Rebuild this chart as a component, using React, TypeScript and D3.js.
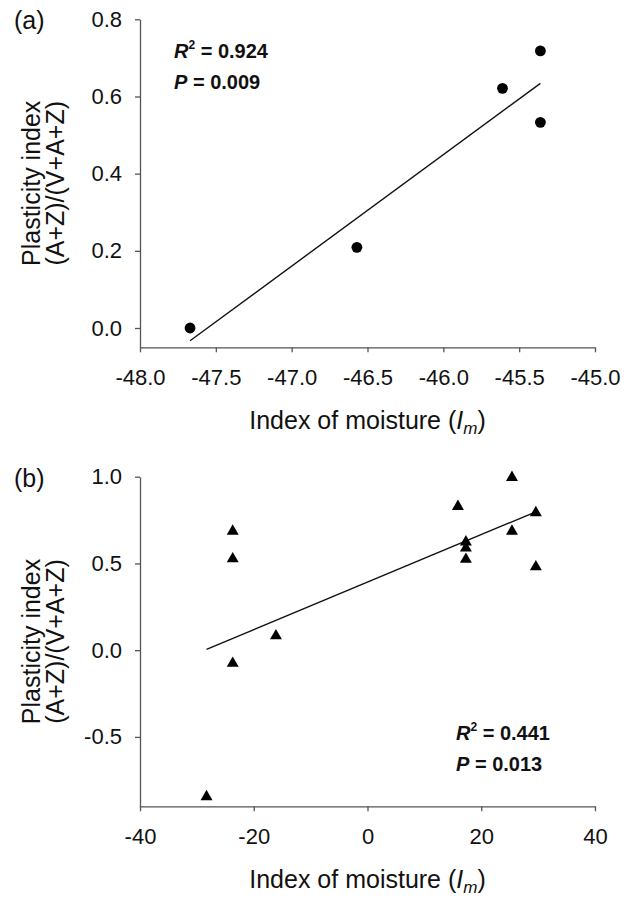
import React, { useRef, useEffect } from 'react';
import * as d3 from 'd3';

// panel (a): circles
const moistureA = [-47.67, -46.57, -45.61, -45.36, -45.36];
const plasticityA = [0.0, 0.209, 0.621, 0.718, 0.533];
const xTicksA = [-48, -47.5, -47, -46.5, -46, -45.5, -45];
const yTicksA = [0, 0.2, 0.4, 0.6, 0.8];
const statsA = ['0.924', '0.009'];

// panel (b): triangles
const moistureB = [25.4, 15.9, 29.6, 25.4, 17.3, 17.3, 17.3, 29.6, -23.7, -23.7, -16.1, -23.7, -28.3];
const plasticityB = [1.0, 0.833, 0.797, 0.69, 0.628, 0.593, 0.528, 0.485, 0.69, 0.531, 0.087, -0.071, -0.84];
const xTicksB = [-40, -20, 0, 20, 40];
const yTicksB = [-0.5, 0, 0.5, 1.0];
const statsB = ['0.441', '0.013'];

const FONT = '"Liberation Sans", Arial, sans-serif';

const App = () => {
  const svgRef = useRef(null);

  useEffect(() => {
    const svg = d3.select(svgRef.current);
    svg.selectAll('*').remove();

    const panels = [
      {
        label: '(a)', xs: moistureA, ys: plasticityA, xTicks: xTicksA, yTicks: yTicksA,
        xDomain: [-48, -45], yDomain: [-0.05, 0.8], top: 19.3, bottom: 347.3,
        xFmt: '.1f', marker: 'circle', stats: statsA, statX: 174, statY: 58
      },
      {
        label: '(b)', xs: moistureB, ys: plasticityB, xTicks: xTicksB, yTicks: yTicksB,
        xDomain: [-40, 40], yDomain: [-0.9, 1.0], top: 476.7, bottom: 806.3,
        xFmt: 'd', marker: 'triangle', stats: statsB, statX: 456, statY: 740
      }
    ];

    const left = 140;
    const right = 595;
    const noMinus = (f) => (d) => d3.format(f)(d).replace('\u2212', '-');

    panels.forEach((p) => {
      const x = d3.scaleLinear().domain(p.xDomain).range([left, right]);
      const y = d3.scaleLinear().domain(p.yDomain).range([p.bottom, p.top]);
      const g = svg.append('g');

      const xAxis = g.append('g')
        .attr('transform', `translate(0,${p.bottom})`)
        .call(d3.axisBottom(x).tickValues(p.xTicks).tickFormat(noMinus(p.xFmt)).tickSize(5).tickSizeOuter(0).tickPadding(17));
      const yAxis = g.append('g')
        .attr('transform', `translate(${left},0)`)
        .call(d3.axisLeft(y).tickValues(p.yTicks).tickFormat(noMinus('.1f')).tickSize(5).tickSizeOuter(0).tickPadding(13));

      [xAxis, yAxis].forEach((a) => {
        a.attr('font-family', FONT).attr('font-size', 22);
        a.selectAll('path, line').attr('stroke', '#555').attr('stroke-width', 1.3);
        a.selectAll('text').attr('fill', '#111');
      });

      // regression line over the data range
      const mx = d3.mean(p.xs);
      const my = d3.mean(p.ys);
      const sxy = d3.sum(p.xs, (v, i) => (v - mx) * (p.ys[i] - my));
      const sxx = d3.sum(p.xs, (v) => (v - mx) ** 2);
      const slope = sxy / sxx;
      const [x0, x1] = d3.extent(p.xs);
      const fit = [x0, x1].map((v) => [v, my + slope * (v - mx)]);
      g.append('path')
        .attr('d', d3.line().x((d) => x(d[0])).y((d) => y(d[1]))(fit))
        .attr('fill', 'none')
        .attr('stroke', '#111')
        .attr('stroke-width', 1.4);

      const pts = p.xs.map((v, i) => [v, p.ys[i]]);
      const sym = p.marker === 'circle'
        ? d3.symbol().type(d3.symbolCircle).size(Math.PI * 5.4 * 5.4)
        : d3.symbol().type(d3.symbolTriangle).size(62);
      g.selectAll('.pt')
        .data(pts)
        .enter()
        .append('path')
        .attr('d', sym)
        .attr('transform', (d) => `translate(${x(d[0])},${y(d[1]) + (p.marker === 'triangle' ? 0.8 : 0)})`)
        .attr('fill', '#000');

      // panel label
      g.append('text')
        .attr('x', 14).attr('y', p.top + 10)
        .attr('font-family', FONT).attr('font-size', 25).attr('fill', '#111')
        .text(p.label);

      // y title
      const midY = (p.top + p.bottom) / 2;
      const yt = g.append('text')
        .attr('transform', `translate(0,${midY}) rotate(-90)`)
        .attr('text-anchor', 'middle')
        .attr('font-family', FONT).attr('font-size', 25).attr('fill', '#111');
      yt.append('tspan').attr('x', 0).attr('y', 40).text('Plasticity index');
      yt.append('tspan').attr('x', 0).attr('y', 64).text('(A+Z)/(V+A+Z)');

      // x title
      const xt = g.append('text')
        .attr('x', (left + right) / 2).attr('y', p.bottom + 82)
        .attr('text-anchor', 'middle')
        .attr('font-family', FONT).attr('font-size', 25).attr('fill', '#111');
      xt.append('tspan').text('Index of moisture (');
      xt.append('tspan').attr('font-style', 'italic').text('I');
      xt.append('tspan').attr('font-style', 'italic').attr('font-size', 17).attr('dy', 5).text('m');
      xt.append('tspan').attr('dy', -5).text(')');

      // statistics
      const s1 = g.append('text')
        .attr('x', p.statX).attr('y', p.statY)
        .attr('font-family', FONT).attr('font-size', 20).attr('font-weight', 'bold').attr('fill', '#111');
      s1.append('tspan').attr('font-style', 'italic').text('R');
      s1.append('tspan').attr('font-size', 12).attr('dy', -9).text('2');
      s1.append('tspan').attr('dy', 9).text(` = ${p.stats[0]}`);
      const s2 = g.append('text')
        .attr('x', p.statX).attr('y', p.statY + 31)
        .attr('font-family', FONT).attr('font-size', 20).attr('font-weight', 'bold').attr('fill', '#111');
      s2.append('tspan').attr('font-style', 'italic').text('P');
      s2.append('tspan').text(` = ${p.stats[1]}`);
    });
  }, []);

  return (
    <svg ref={svgRef} width={624} height={897}
      style={{ position: 'absolute', left: 0, top: 0, background: '#fff' }} />
  );
};

export default App;
